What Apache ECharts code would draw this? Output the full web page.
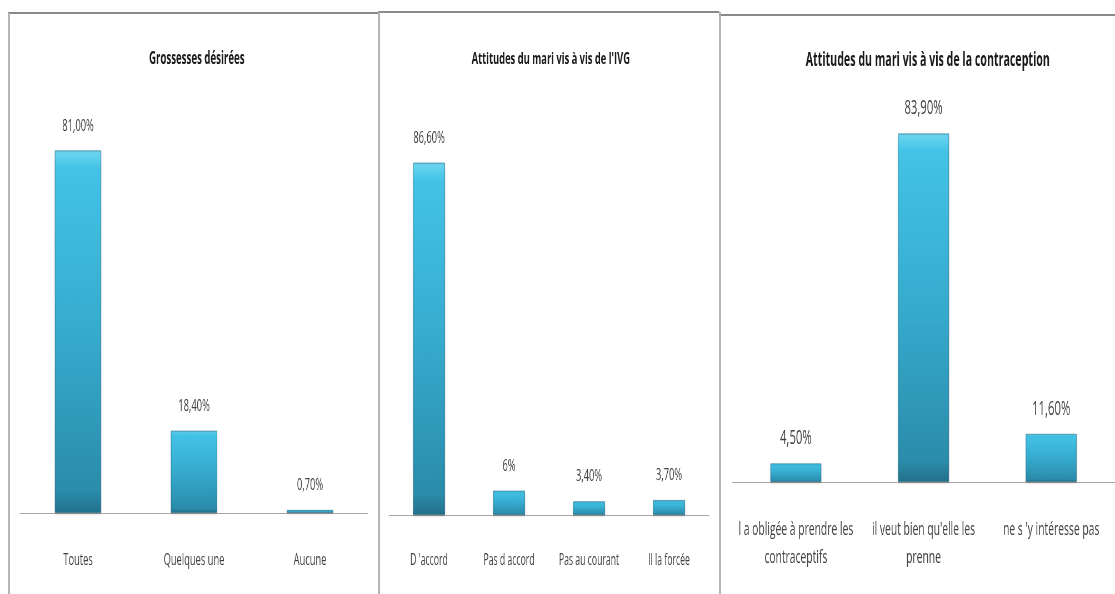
<!DOCTYPE html>
<html>
<head>
<meta charset="utf-8">
<script src="https://cdn.jsdelivr.net/npm/echarts@6/dist/echarts.min.js"></script>
<style>
  html, body { margin: 0; padding: 0; background: #ffffff; overflow: hidden; }
  #wrap { width: 1115px; height: 594px; overflow: hidden; position: relative; }
  #chart { height: 594px; transform-origin: 0 0; position: absolute; left: 0; top: 0; }
</style>
</head>
<body>
<div id="wrap"><div id="chart"></div></div>
<script>
// Panel 1 : Grossesses désirées
const titre1 = 'Grossesses désirées';
const categories1 = ['Toutes', 'Quelques une', 'Aucune'];
const valeurs1 = [81.0, 18.4, 0.7];
const decimales1 = [2, 2, 2];

// Panel 2 : attitudes du mari vis à vis de l'IVG
const titre2 = "Attitudes du mari vis à vis de l'IVG";
const categories2 = ["D 'accord", 'Pas d accord', 'Pas au courant', 'Il la forcée'];
const valeurs2 = [86.6, 6, 3.4, 3.7];
const decimales2 = [2, 0, 2, 2];

// Panel 3 : attitudes du mari vis à vis de la contraception
const titre3 = 'Attitudes du mari vis à vis de la contraception';
const categories3 = ['l a obligée à prendre les\ncontraceptifs', "il veut bien qu'elle les\nprenne", "ne s 'y intéresse pas"];
const valeurs3 = [4.5, 83.9, 11.6];
const decimales3 = [2, 2, 2];

// The chart is laid out on a wider canvas and squeezed horizontally,
// which gives the narrow, condensed lettering of the figure.
const SX = 1.8;
const X = v => v * SX;

const chartEl = document.getElementById('chart');
chartEl.style.width = X(1115) + 'px';
chartEl.style.transform = 'scaleX(' + (1 / SX) + ')';

const FONT = '"Open Sans", "Noto Sans", sans-serif';

const barGradient = {
  type: 'linear', x: 0, y: 0, x2: 0, y2: 1,
  colorStops: [
    { offset: 0, color: '#6fd8f2' },
    { offset: 0.05, color: '#43c3e6' },
    { offset: 0.5, color: '#36abce' },
    { offset: 0.94, color: '#2b8cab' },
    { offset: 1, color: '#23708a' }
  ]
};

function pct(decimals) {
  return function (p) {
    return p.value.toFixed(decimals[p.dataIndex]).replace('.', ',') + '%';
  };
}

function barSeries(idx, values, decimals, size, dist) {
  return {
    type: 'bar',
    xAxisIndex: idx,
    yAxisIndex: idx,
    data: values,
    barWidth: '40%',
    itemStyle: {
      color: barGradient,
      borderColor: 'rgba(30,100,125,0.55)',
      borderWidth: 1,
      shadowColor: 'rgba(0,0,0,0.18)',
      shadowBlur: 2,
      shadowOffsetY: 1
    },
    label: {
      show: true,
      position: 'top',
      distance: dist,
      formatter: pct(decimals),
      color: '#404040',
      fontFamily: FONT,
      fontSize: size
    }
  };
}

function xAxis(idx, cats, margin, size) {
  return {
    type: 'category',
    gridIndex: idx,
    data: cats,
    axisLine: { lineStyle: { color: '#a6a6a6', width: 1 } },
    axisTick: { show: false },
    axisLabel: {
      interval: 0,
      margin: margin,
      color: '#404040',
      fontFamily: FONT,
      fontSize: size,
      lineHeight: 28
    }
  };
}

function yAxis(idx, max) {
  return {
    type: 'value',
    gridIndex: idx,
    min: 0,
    max: max,
    show: false,
    splitLine: { show: false }
  };
}

function titre(text, cx, size) {
  return {
    text: text,
    left: X(cx),
    top: 46,
    textAlign: 'center',
    textStyle: { fontFamily: FONT, fontWeight: 'bold', fontSize: size, color: '#1a1a1a' }
  };
}

const frameTop = '#8a8a8a';
const frameSide = '#b0b0b0';

function hLine(x1, x2, y) {
  return { type: 'line', shape: { x1: X(x1), y1: y, x2: X(x2), y2: y }, style: { stroke: frameTop, lineWidth: 2 } };
}
function vLine(x, y1) {
  return { type: 'line', shape: { x1: X(x), y1: y1, x2: X(x), y2: 600 }, style: { stroke: frameSide, lineWidth: 2 * SX } };
}

const option = {
  backgroundColor: '#ffffff',
  animation: false,
  title: [
    titre(titre1, 194, 17.4),
    titre(titre2, 548, 16.8),
    titre(titre3, 925, 19.2)
  ],
  grid: [
    { left: X(20), width: X(348), top: 110, height: 403 },
    { left: X(389), width: X(320), top: 108, height: 407 },
    { left: X(732), width: X(387), top: 108, height: 374 }
  ],
  xAxis: [
    xAxis(0, categories1, 33, 16.8),
    xAxis(1, categories2, 32, 15.6),
    xAxis(2, categories3, 34, 18.6)
  ],
  yAxis: [yAxis(0, 90), yAxis(1, 100), yAxis(2, 90)],
  series: [
    barSeries(0, valeurs1, decimales1, 16.8, 16),
    barSeries(1, valeurs2, decimales2, 16.8, 16),
    barSeries(2, valeurs3, decimales3, 20.4, 15)
  ],
  graphic: [
    hLine(8, 378, 13),
    vLine(9, 13),
    hLine(378, 719, 12),
    vLine(379, 12),
    hLine(719, 1115, 15),
    vLine(720, 12)
  ]
};

const chart = echarts.init(chartEl, null, { renderer: 'canvas' });
chart.setOption(option);
</script>
</body>
</html>
